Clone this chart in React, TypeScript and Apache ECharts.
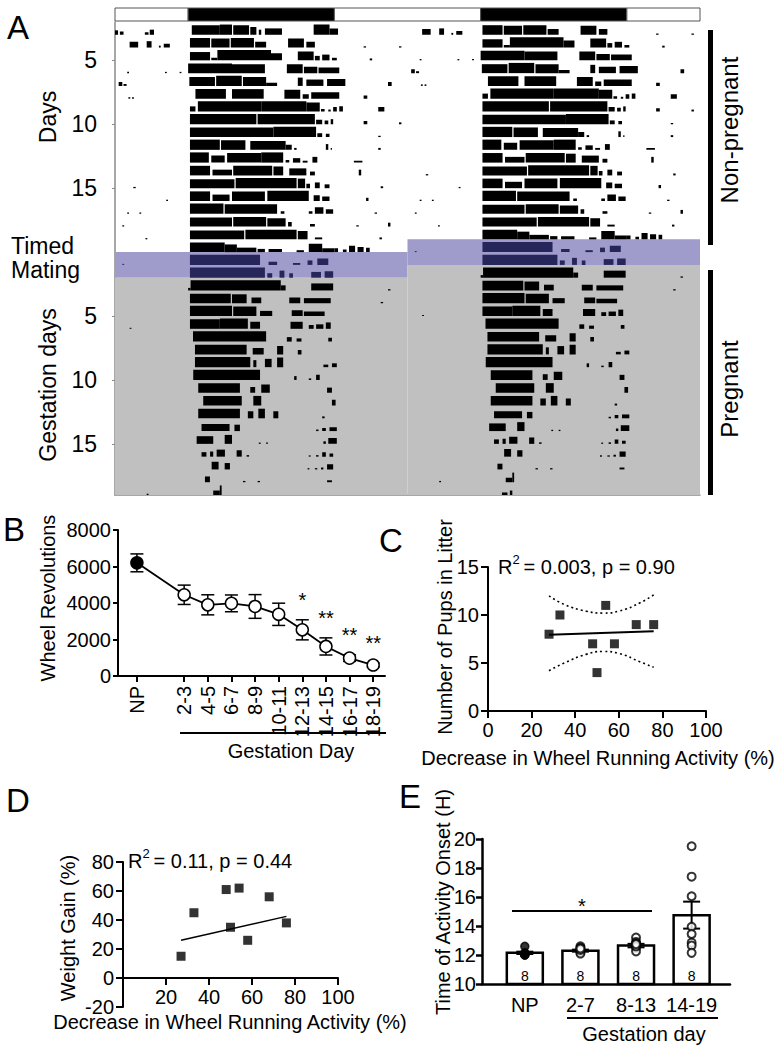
import React, { useEffect, useRef } from "react";
import * as echarts from "echarts";

const FONT = '"Liberation Sans", Arial, Helvetica, sans-serif';

// ---------------- Panel A: double-plotted actogram ----------------
const actoHours = 48;
const actoRows = 37;
const darkPeriods: [number, number][] = [[6, 18], [30, 42]];
const matingDays = [19, 20];
const dayTickRows = [3, 8, 13, 23, 28, 33];
const dayTickLabels = ["5", "10", "15", "5", "10", "15"];
// one entry per recorded day: [start hour, end hour, relative bar height]
const dayBouts: number[][][] = [
  [[0, 0.25, 0.35], [0.4, 0.7, 0.25], [2.45, 2.75, 0.2], [2.85, 3.2, 0.4], [6.3, 8.6, 0.75], [8.6, 9.6, 0.8], [9.7, 11.0, 0.75], [11.1, 11.6, 0.6], [11.8, 12.0, 0.4], [12.3, 13.7, 0.5], [16.3, 17.6, 0.8], [17.6, 18.3, 0.5]],
  [[1.2, 1.9, 0.45], [2.6, 3.0, 0.5], [3.6, 3.75, 0.15], [4.0, 4.5, 0.3], [6.15, 7.8, 0.75], [7.9, 9.4, 0.7], [9.5, 11.4, 0.75], [11.5, 12.4, 0.45], [14.2, 15.5, 0.7], [15.7, 16.4, 0.45], [20.4, 20.6, 0.1], [23.3, 23.5, 0.1]],
  [[6.15, 7.8, 0.65], [7.9, 8.4, 0.2], [8.4, 12.8, 0.8], [12.8, 13.7, 0.55], [15.0, 16.3, 0.7], [16.4, 16.8, 0.35], [17.0, 17.6, 0.45], [17.8, 18.2, 0.2], [20.9, 21.1, 0.15]],
  [[1.0, 1.15, 0.1], [4.1, 4.25, 0.1], [5.3, 5.45, 0.1], [6.0, 9.6, 0.75], [9.6, 12.3, 0.7], [14.1, 15.4, 0.7], [15.5, 16.6, 0.5], [16.7, 18.4, 0.45]],
  [[0.3, 0.6, 0.3], [0.7, 0.95, 0.15], [6.1, 8.2, 0.7], [8.3, 10.4, 0.8], [10.5, 12.4, 0.7], [12.4, 13.3, 0.25], [15.0, 15.4, 0.65], [15.7, 17.1, 0.5], [17.4, 18.9, 0.55], [22.4, 22.7, 0.3]],
  [[1.1, 1.25, 0.12], [1.4, 1.55, 0.12], [6.6, 9.1, 0.75], [9.6, 12.2, 0.75], [13.9, 15.2, 0.7], [15.4, 15.9, 0.35], [16.1, 18.4, 0.5], [20.4, 20.7, 0.25]],
  [[6.15, 6.6, 0.4], [6.8, 12.0, 0.8], [12.0, 15.7, 0.8], [15.7, 16.8, 0.7], [16.9, 17.2, 0.2], [17.5, 17.7, 0.15], [17.9, 18.2, 0.35], [18.4, 18.7, 0.4], [21.6, 22.1, 0.35]],
  [[6.15, 11.6, 0.8], [11.7, 16.4, 0.8], [16.5, 17.0, 0.35], [17.2, 17.5, 0.3], [17.7, 17.9, 0.4], [20.4, 20.7, 0.25], [23.3, 23.5, 0.15]],
  [[6.15, 13.0, 0.75], [13.0, 16.5, 0.8], [16.6, 17.0, 0.3], [17.3, 17.6, 0.25], [21.6, 21.8, 0.1]],
  [[6.15, 8.6, 0.8], [8.7, 10.7, 0.75], [11.1, 14.0, 0.7], [14.0, 14.5, 0.4], [14.7, 14.9, 0.15], [17.3, 17.5, 0.45], [17.7, 17.8, 0.15], [21.6, 21.8, 0.15]],
  [[6.15, 7.7, 0.8], [7.9, 9.0, 0.55], [9.2, 12.0, 0.75], [12.0, 13.8, 0.8], [14.0, 14.3, 0.2], [14.6, 15.2, 0.35], [15.4, 15.8, 0.15], [16.2, 16.6, 0.45], [19.6, 20.3, 0.15]],
  [[6.15, 7.8, 0.75], [8.0, 9.6, 0.45], [9.7, 12.9, 0.75], [13.0, 13.8, 0.7], [14.3, 15.7, 0.55], [16.0, 16.4, 0.3], [20.0, 20.2, 0.45]],
  [[1.5, 1.7, 0.1], [6.15, 9.8, 0.7], [9.9, 14.9, 0.8], [15.0, 15.6, 0.75], [15.7, 16.0, 0.35], [16.4, 16.8, 0.45], [17.2, 17.6, 0.3], [21.8, 22.0, 0.15]],
  [[4.2, 4.35, 0.1], [6.15, 7.8, 0.75], [8.0, 9.4, 0.5], [9.6, 12.3, 0.75], [12.5, 15.9, 0.8], [16.3, 16.8, 0.45], [17.0, 17.6, 0.35], [20.6, 20.8, 0.25]],
  [[1.0, 1.15, 0.1], [2.0, 2.15, 0.1], [6.15, 8.9, 0.8], [9.0, 13.3, 0.75], [13.6, 13.9, 0.2], [15.9, 16.2, 0.2], [16.4, 17.1, 0.5], [17.3, 17.9, 0.35], [21.3, 21.5, 0.1]],
  [[0.6, 0.75, 0.1], [6.15, 9.6, 0.7], [9.7, 12.4, 0.75], [12.5, 14.0, 0.65], [14.2, 14.5, 0.35], [16.0, 16.4, 0.2], [19.8, 20.0, 0.1], [22.4, 22.6, 0.3]],
  [[2.5, 2.65, 0.1], [6.15, 10.6, 0.7], [10.7, 14.9, 0.75], [15.0, 15.8, 0.65], [16.4, 17.0, 0.15], [21.7, 21.9, 0.15]],
  [[6.15, 9.0, 0.75], [9.0, 10.0, 0.6], [10.0, 11.6, 0.35], [11.7, 12.3, 0.25], [12.6, 13.7, 0.25], [14.9, 15.5, 0.15], [15.9, 17.0, 0.65], [17.0, 18.0, 0.3], [18.0, 18.3, 0.3], [18.7, 19.0, 0.2], [19.2, 19.7, 0.5], [19.9, 20.4, 0.4], [20.6, 20.9, 0.35]],
  [[0.6, 0.75, 0.08], [6.15, 11.9, 0.8], [12.6, 13.3, 0.25], [14.6, 15.2, 0.15], [15.8, 16.2, 0.35], [16.6, 17.5, 0.5]],
  [[6.15, 12.3, 0.8], [12.5, 12.9, 0.35], [13.5, 13.9, 0.55], [14.3, 14.6, 0.35], [16.1, 16.9, 0.45], [17.2, 17.9, 0.5]],
  [[6.0, 6.2, 0.2], [6.2, 13.6, 0.8], [13.6, 14.0, 0.4], [16.1, 17.9, 0.55], [22.4, 22.6, 0.1]],
  [[6.15, 9.5, 0.75], [9.6, 10.8, 0.7], [11.2, 12.0, 0.45], [14.3, 15.2, 0.45], [15.5, 17.7, 0.4], [21.8, 22.0, 0.1]],
  [[6.15, 9.6, 0.8], [9.7, 11.6, 0.75], [11.9, 12.9, 0.4], [14.5, 15.4, 0.45], [15.5, 17.2, 0.35]],
  [[1.2, 1.35, 0.08], [6.15, 8.6, 0.75], [8.6, 10.9, 0.8], [11.1, 11.9, 0.55], [14.4, 15.4, 0.55], [15.9, 16.3, 0.3], [16.5, 17.1, 0.35], [17.3, 17.7, 0.5]],
  [[6.4, 12.4, 0.8], [14.1, 14.5, 0.35], [14.9, 15.3, 0.25], [17.5, 17.8, 0.3]],
  [[6.56, 10.8, 0.75], [11.3, 12.2, 0.5], [13.3, 13.8, 0.65], [15.0, 15.3, 0.35]],
  [[6.56, 11.1, 0.8], [11.35, 11.6, 0.55], [12.3, 12.85, 0.65], [13.3, 13.8, 0.75], [17.1, 17.5, 0.2], [17.8, 18.2, 0.3]],
  [[6.42, 11.9, 0.8], [14.7, 14.9, 0.3], [15.9, 16.1, 0.12], [16.5, 16.8, 0.4]],
  [[6.83, 10.25, 0.75], [11.1, 11.5, 0.45], [12.0, 12.7, 0.65], [17.4, 17.8, 0.4]],
  [[7.24, 10.4, 0.75], [11.35, 12.0, 0.75], [17.8, 18.1, 0.45]],
  [[6.83, 10.25, 0.75], [10.9, 11.35, 0.55], [11.76, 12.3, 0.75], [12.99, 13.4, 0.55], [17.0, 17.2, 0.15]],
  [[7.1, 9.4, 0.55], [9.8, 10.25, 0.5], [16.5, 16.7, 0.12], [17.0, 17.3, 0.25], [17.6, 18.2, 0.3]],
  [[6.7, 8.06, 0.6], [9.0, 9.6, 0.7], [11.8, 11.95, 0.1], [12.4, 12.55, 0.1], [17.1, 17.3, 0.2], [17.5, 18.2, 0.45]],
  [[7.1, 7.5, 0.35], [7.8, 8.06, 0.4], [8.34, 9.02, 0.55], [9.98, 10.4, 0.5], [10.8, 11.0, 0.12], [15.9, 16.05, 0.1], [16.5, 16.7, 0.12], [17.0, 17.3, 0.35], [17.6, 17.9, 0.25]],
  [[7.93, 8.5, 0.6], [9.0, 9.43, 0.5], [15.8, 15.95, 0.1], [16.4, 16.6, 0.1], [16.9, 17.1, 0.15], [17.4, 17.9, 0.4]],
  [[7.38, 7.79, 0.45], [10.5, 10.7, 0.1], [11.7, 11.9, 0.1], [17.4, 17.8, 0.15]],
  [[2.6, 2.75, 0.1], [8.06, 8.6, 0.35], [8.6, 8.75, 0.75]],
  [[7.75, 8.2, 0.2], [8.4, 8.6, 0.35]],
];

// ---------------- Panel B ----------------
const bCategories = ["NP", "2-3", "4-5", "6-7", "8-9", "10-11", "12-13", "14-15", "16-17", "18-19"];
const bMean = [6200, 4450, 3900, 3980, 3810, 3380, 2530, 1620, 980, 600];
const bSem = [490, 530, 550, 460, 650, 610, 550, 470, 180, 110];
const bStars = ["", "", "", "", "", "", "*", "**", "**", "**"];

// ---------------- Panel C ----------------
const cX = [28, 33, 48, 50, 54, 58, 68, 76];
const cY = [8, 10, 7, 4, 11, 7, 9, 9];
const cFitX = [28, 76];
const cFitY = [7.95, 8.3];
const cBandX = [28, 35, 45, 53, 60, 70, 76];
const cBandUpper = [12.0, 11.1, 10.4, 10.2, 10.4, 11.3, 12.1];
const cBandLower = [4.2, 5.0, 5.9, 6.2, 6.0, 5.1, 4.55];

// ---------------- Panel D ----------------
const dX = [27, 33, 48, 50, 54, 58, 68, 76];
const dY = [15, 45, 61, 35, 62, 26, 56, 38];
const dFitX = [27, 76];
const dFitY = [26, 42.5];

// ---------------- Panel E ----------------
const eCategories = ["NP", "2-7", "8-13", "14-19"];
const eMean = [12.15, 12.3, 12.65, 14.75];
const eSem = [0.08, 0.07, 0.12, 0.93];
const eN = [8, 8, 8, 8];
const ePoints = [
  [12.6, 12.1, 12.05, 12.0, 12.1, 12.0, 12.15, 12.0],
  [12.6, 12.5, 12.4, 12.3, 12.2, 12.1, 12.35, 12.45],
  [13.2, 12.9, 12.8, 12.7, 12.5, 12.25, 12.6, 12.75],
  [19.5, 17.4, 16.05, 13.95, 13.45, 12.85, 12.65, 12.15],
];

const PURPLE = "#9f9bca";
const GRAY = "#c0c0c0";
const NAVY = "#27265a";

function errorBars(capHalf: number, width: number) {
  return (_p: any, api: any) => {
    const x = api.value(0);
    const hi = api.coord([x, api.value(2)]);
    const lo = api.coord([x, api.value(1)]);
    const st = { stroke: "#000", lineWidth: width };
    return {
      type: "group",
      children: [
        { type: "line", shape: { x1: hi[0], y1: hi[1], x2: lo[0], y2: lo[1] }, style: st },
        { type: "line", shape: { x1: hi[0] - capHalf, y1: hi[1], x2: hi[0] + capHalf, y2: hi[1] }, style: st },
        { type: "line", shape: { x1: lo[0] - capHalf, y1: lo[1], x2: lo[0] + capHalf, y2: lo[1] }, style: st },
      ],
    };
  };
}

function txt(text: string, x: number, y: number, size: number, align = "left", rot = 0) {
  return {
    type: "text",
    x,
    y,
    rotation: rot,
    style: { text, fontSize: size, fontFamily: FONT, fill: "#000", align, verticalAlign: "middle" },
  };
}
function ln(x1: number, y1: number, x2: number, y2: number, w: number, color = "#000") {
  return { type: "line", shape: { x1, y1, x2, y2 }, style: { stroke: color, lineWidth: w } };
}

const blackAxis = (w = 2) => ({ show: true, onZero: false, lineStyle: { color: "#000", width: w } });
const blackTick = (len = 6, w = 2) => ({ show: true, length: len, lineStyle: { color: "#000", width: w } });
const lbl = (extra: any = {}) => ({ color: "#000", fontSize: 20, fontFamily: FONT, ...extra });

export default function App() {
  const ref = useRef<HTMLDivElement>(null);
  useEffect(() => {
    document.body.style.margin = "0";
    if (!ref.current) return;
    const chart = echarts.init(ref.current, undefined, { renderer: "svg" });

    // actogram data (double plot: day d on row d left half and row d-1 right half)
    const actoData: number[][] = [];
    dayBouts.forEach((bouts, i) => {
      const day = i + 1;
      const m = matingDays.includes(day) ? 1 : 0;
      bouts.forEach(([s, e, h]) => {
        if (day <= actoRows) actoData.push([day, s, e, h, m]);
        if (day >= 2) actoData.push([day - 1, s + 24, e + 24, h, m]);
      });
    });
    const mStart = matingDays[0];
    const mEnd = matingDays[matingDays.length - 1];
    const bgData = [
      [0, 24, mStart - 1, mEnd, 1],
      [24, 48, mStart - 2, mEnd - 1, 1],
      [0, 24, mEnd, actoRows, 0],
      [24, 48, mEnd - 1, actoRows, 0],
    ];
    const lightSegs: number[][] = [];
    let prev = 0;
    darkPeriods.forEach(([a, b]) => {
      lightSegs.push([prev, a, 0]);
      lightSegs.push([a, b, 1]);
      prev = b;
    });
    lightSegs.push([prev, actoHours, 0]);

    const bPos = bCategories.map((_, i) => (i === 0 ? 0 : i + 1));

    const hiddenAxis = (gi: number, min: number, max: number, extra: any = {}) => ({
      gridIndex: gi, type: "value", min, max, show: false, ...extra,
    });

    const option: any = {
      animation: false,
      backgroundColor: "#fff",
      textStyle: { fontFamily: FONT },
      grid: [
        { left: 115, top: 22, width: 585, height: 473 },
        { left: 115, top: 8, width: 585, height: 13 },
        { left: 118, top: 530, width: 267, height: 146 },
        { left: 488, top: 567, width: 218, height: 144 },
        { left: 123, top: 862, width: 215, height: 145 },
        { left: 482, top: 839, width: 248, height: 145 },
        { left: 123, top: 862, width: 215, height: 116 },
      ],
      xAxis: [
        {
          gridIndex: 0, type: "value", min: 0, max: actoHours, position: "bottom",
          axisLine: { show: true, onZero: false, lineStyle: { color: "#8a8a8a", width: 1.5 } },
          axisTick: { show: false }, axisLabel: { show: false }, splitLine: { show: false },
        },
        hiddenAxis(1, 0, actoHours),
        {
          gridIndex: 2, type: "value", min: -0.8, max: 10.5,
          axisLine: blackAxis(2),
          axisTick: { ...blackTick(6, 2), customValues: bPos },
          axisLabel: lbl({
            customValues: bPos, rotate: 90, margin: 10,
            formatter: (v: number) => {
              const i = bPos.indexOf(Math.round(v));
              return i >= 0 ? bCategories[i] : "";
            },
          }),
          splitLine: { show: false },
        },
        {
          gridIndex: 3, type: "value", min: 0, max: 100, interval: 20,
          axisLine: blackAxis(2), axisTick: blackTick(7, 2), axisLabel: lbl({ margin: 9 }), splitLine: { show: false },
        },
        hiddenAxis(4, 0, 100),
        {
          gridIndex: 5, type: "value", min: -0.77, max: 3.69,
          axisLine: blackAxis(2.5), axisTick: { show: false },
          axisLabel: lbl({
            customValues: [0, 1, 2, 3], margin: 11,
            formatter: (v: number) => eCategories[Math.round(v)] ?? "",
          }),
          splitLine: { show: false },
        },
        {
          gridIndex: 6, type: "value", min: 0, max: 100, interval: 20,
          axisLine: blackAxis(2), axisTick: blackTick(7, 2),
          axisLabel: lbl({ margin: 9, showMinLabel: false }), splitLine: { show: false },
        },
      ],
      yAxis: [
        {
          gridIndex: 0, type: "value", min: 0, max: actoRows, inverse: true,
          axisLine: { show: true, lineStyle: { color: "#8a8a8a", width: 1.5 } },
          axisTick: { show: true, customValues: dayTickRows, length: 3, lineStyle: { color: "#8a8a8a" } },
          axisLabel: {
            customValues: dayTickRows, color: "#000", fontSize: 23, fontFamily: FONT, margin: 18,
            formatter: (v: number) => {
              const i = dayTickRows.indexOf(Math.round(v));
              return i >= 0 ? dayTickLabels[i] : "";
            },
          },
          splitLine: { show: false },
        },
        hiddenAxis(1, 0, 1),
        {
          gridIndex: 2, type: "value", min: 0, max: 8000, interval: 2000,
          axisLine: blackAxis(2), axisTick: blackTick(5, 2),
          axisLabel: lbl({ margin: 7, formatter: (v: number) => String(v) }), splitLine: { show: false },
        },
        {
          gridIndex: 3, type: "value", min: 0, max: 15, interval: 5,
          axisLine: blackAxis(2), axisTick: blackTick(7, 2), axisLabel: lbl({ margin: 9 }), splitLine: { show: false },
        },
        {
          gridIndex: 4, type: "value", min: -20, max: 80, interval: 20,
          axisLine: blackAxis(2), axisTick: blackTick(7, 2), axisLabel: lbl({ margin: 9 }), splitLine: { show: false },
        },
        {
          gridIndex: 5, type: "value", min: 10, max: 20, interval: 2,
          axisLine: blackAxis(2.5), axisTick: blackTick(6, 2.5), axisLabel: lbl({ margin: 6 }), splitLine: { show: false },
        },
        hiddenAxis(6, 0, 80),
      ],
      series: [
        // A background shading
        {
          type: "custom", xAxisIndex: 0, yAxisIndex: 0, z: 1, data: bgData,
          encode: { x: [0, 1], y: [2, 3] },
          renderItem: (_p: any, api: any) => {
            const p0 = api.coord([api.value(0), api.value(2)]);
            const p1 = api.coord([api.value(1), api.value(3)]);
            return {
              type: "rect",
              shape: { x: p0[0], y: Math.min(p0[1], p1[1]), width: p1[0] - p0[0], height: Math.abs(p1[1] - p0[1]) },
              style: { fill: api.value(4) ? PURPLE : GRAY },
            };
          },
        },
        // A activity
        {
          type: "custom", xAxisIndex: 0, yAxisIndex: 0, z: 2, data: actoData,
          encode: { x: [1, 2], y: 0 },
          renderItem: (_p: any, api: any) => {
            const row = api.value(0);
            const pb = api.coord([api.value(1), row]);
            const pt = api.coord([api.value(2), row - api.value(3)]);
            return {
              type: "rect",
              shape: { x: pb[0], y: pt[1], width: Math.max(pt[0] - pb[0], 1.2), height: Math.max(pb[1] - pt[1], 1) },
              style: { fill: api.value(4) ? NAVY : "#000" },
            };
          },
        },
        // A light/dark bar
        {
          type: "custom", xAxisIndex: 1, yAxisIndex: 1, data: lightSegs,
          encode: { x: [0, 1] },
          renderItem: (_p: any, api: any) => {
            const p0 = api.coord([api.value(0), 1]);
            const p1 = api.coord([api.value(1), 0]);
            return {
              type: "rect",
              shape: { x: p0[0], y: p0[1], width: p1[0] - p0[0], height: p1[1] - p0[1] },
              style: { fill: api.value(2) ? "#000" : "#fff", stroke: "#555", lineWidth: 1 },
            };
          },
        },
        // B error bars
        {
          type: "custom", xAxisIndex: 2, yAxisIndex: 2, z: 2,
          data: bPos.map((p, i) => [p, bMean[i] - bSem[i], bMean[i] + bSem[i]]),
          encode: { x: 0, y: [1, 2] },
          renderItem: errorBars(6.5, 1.5),
        },
        // B mean line
        {
          type: "line", xAxisIndex: 2, yAxisIndex: 2, z: 3,
          data: bPos.map((p, i) => ({
            value: [p, bMean[i]],
            itemStyle: i === 0 ? { color: "#000", borderColor: "#000" } : undefined,
          })),
          symbol: "circle", symbolSize: 12, showAllSymbol: true,
          lineStyle: { color: "#000", width: 1.8 },
          itemStyle: { color: "#fff", borderColor: "#000", borderWidth: 1.5 },
        },
        // B significance stars
        {
          type: "custom", xAxisIndex: 2, yAxisIndex: 2, z: 4,
          data: bPos.map((p, i) => [p, bMean[i] + bSem[i], i]).filter((d) => bStars[d[2]] !== ""),
          encode: { x: 0, y: 1 },
          renderItem: (_p: any, api: any) => {
            const pt = api.coord([api.value(0), api.value(1)]);
            return {
              type: "text", x: pt[0], y: pt[1] - 20,
              style: { text: bStars[api.value(2)], fontSize: 20, fontFamily: FONT, fill: "#000", align: "center", verticalAlign: "middle" },
            };
          },
        },
        // C confidence bands
        {
          type: "line", xAxisIndex: 3, yAxisIndex: 3, smooth: true, symbol: "none",
          data: cBandX.map((x, i) => [x, cBandUpper[i]]),
          lineStyle: { color: "#000", width: 1.6, type: [2, 3] },
        },
        {
          type: "line", xAxisIndex: 3, yAxisIndex: 3, smooth: true, symbol: "none",
          data: cBandX.map((x, i) => [x, cBandLower[i]]),
          lineStyle: { color: "#000", width: 1.6, type: [2, 3] },
        },
        {
          type: "line", xAxisIndex: 3, yAxisIndex: 3, symbol: "none",
          data: cFitX.map((x, i) => [x, cFitY[i]]),
          lineStyle: { color: "#000", width: 2 },
        },
        {
          type: "scatter", xAxisIndex: 3, yAxisIndex: 3, symbol: "rect", symbolSize: 9, z: 4,
          data: cX.map((x, i) => [x, cY[i]]), itemStyle: { color: "#000" },
        },
        // D
        {
          type: "line", xAxisIndex: 4, yAxisIndex: 4, symbol: "none",
          data: dFitX.map((x, i) => [x, dFitY[i]]),
          lineStyle: { color: "#000", width: 1.5 },
        },
        {
          type: "scatter", xAxisIndex: 4, yAxisIndex: 4, symbol: "rect", symbolSize: 9, z: 4,
          data: dX.map((x, i) => [x, dY[i]]), itemStyle: { color: "#000" },
        },
        // E bars
        {
          type: "custom", xAxisIndex: 5, yAxisIndex: 5, z: 2,
          data: eMean.map((m, i) => [i, m, eN[i]]),
          encode: { x: 0, y: 1 },
          renderItem: (_p: any, api: any) => {
            const top = api.coord([api.value(0), api.value(1)]);
            const base = api.coord([api.value(0), 10]);
            return {
              type: "group",
              children: [
                {
                  type: "rect",
                  shape: { x: top[0] - 18, y: top[1], width: 36, height: base[1] - top[1] },
                  style: { fill: "#fff", stroke: "#000", lineWidth: 2.5 },
                },
                {
                  type: "text", x: top[0], y: base[1] - 8,
                  style: { text: String(api.value(2)), fontSize: 14, fontFamily: FONT, fill: "#000", align: "center", verticalAlign: "middle" },
                },
              ],
            };
          },
        },
        {
          type: "custom", xAxisIndex: 5, yAxisIndex: 5, z: 3,
          data: eMean.map((m, i) => [i, m - eSem[i], m + eSem[i]]),
          encode: { x: 0, y: [1, 2] },
          renderItem: errorBars(8.5, 2),
        },
        {
          type: "scatter", xAxisIndex: 5, yAxisIndex: 5, z: 4, symbol: "circle", symbolSize: 8,
          data: ePoints[0].map((v) => [0, v]),
          itemStyle: { color: "#000", borderColor: "#000", borderWidth: 1.5 },
        },
        {
          type: "scatter", xAxisIndex: 5, yAxisIndex: 5, z: 4, symbol: "circle", symbolSize: 8,
          data: ePoints.slice(1).flatMap((pts, gi) => pts.map((v) => [gi + 1, v])),
          itemStyle: { color: "#fff", borderColor: "#000", borderWidth: 2 },
        },
      ],
      graphic: [
        // Panel A annotations
        txt("A", 7, 27, 33),
        txt("Days", 48, 117, 23, "center", Math.PI / 2),
        txt("Timed", 11, 246, 23),
        txt("Mating", 11, 270, 23),
        txt("Gestation days", 48, 385, 23, "center", Math.PI / 2),
        ln(710.5, 30, 710.5, 245, 5),
        ln(710.5, 270, 710.5, 495, 5),
        txt("Non-pregnant", 729, 130, 24, "center", Math.PI / 2),
        txt("Pregnant", 729, 389, 24, "center", Math.PI / 2),
        {
          type: "polyline",
          shape: { points: [[183, 362], [172.5, 362], [172.5, 427], [183, 427]] },
          style: { stroke: "#222", lineWidth: 1.5, fill: "none" },
        },
        ln(167, 394, 172.5, 394, 1.5, "#222"),
        txt("*", 157, 400, 20, "center"),
        // Panel B
        txt("B", 3, 529, 33),
        txt("Wheel Revolutions", 48, 598, 20, "center", Math.PI / 2),
        ln(180, 733, 386, 733, 2),
        txt("Gestation Day", 291, 751, 20, "center"),
        // Panel C
        txt("C", 379, 540, 33),
        txt("Number of Pups in Litter", 445, 627, 20, "center", Math.PI / 2),
        txt("Decrease in Wheel Running Activity (%)", 598, 758, 20, "center"),
        txt("R", 498, 567, 20),
        txt("2", 512.5, 559, 13),
        txt(" = 0.003, p = 0.90", 518, 567, 20),
        // Panel D
        txt("D", 6, 800, 33),
        txt("Weight Gain (%)", 68, 928, 20, "center", Math.PI / 2),
        txt("Decrease in Wheel Running Activity (%)", 230, 1022, 20, "center"),
        txt("R", 128, 861, 20),
        txt("2", 142.5, 853, 13),
        txt(" = 0.11, p = 0.44", 148, 861, 20),
        // Panel E
        txt("E", 399, 796, 33),
        txt("Time of Activity Onset (H)", 443, 902, 20, "center", Math.PI / 2),
        ln(512, 911, 652, 911, 2),
        txt("*", 582, 906, 20, "center"),
        ln(567, 1018, 718, 1018, 2),
        txt("Gestation day", 644, 1034, 20, "center"),
      ],
    };
    chart.setOption(option);
    return () => chart.dispose();
  }, []);
  return <div ref={ref} style={{ width: 781, height: 1050 }} />;
}
